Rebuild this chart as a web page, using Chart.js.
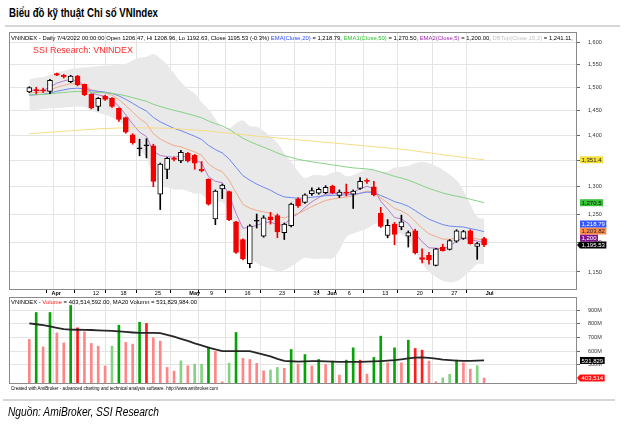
<!DOCTYPE html>
<html>
<head>
<meta charset="utf-8">
<script src="https://cdn.jsdelivr.net/npm/chart.js@4.4.1/dist/chart.umd.min.js"></script>
<style>
  body { margin: 0; width: 630px; height: 428px; background: #fff; position: relative; overflow: hidden; font-family: "Liberation Sans", Arial, sans-serif; }
  .t { position: absolute; white-space: nowrap; line-height: 1; transform-origin: 0 0; }
  .rule { position: absolute; height: 2px; background: #d6d6d6; }
  canvas { position: absolute; left: 0; }
</style>
</head>
<body>
<div class="t" id="title" style="left:9px;top:6.7px;font-weight:bold;font-size:12px;font-family:'Liberation Sans Narrow',Arial,sans-serif">Biểu đồ kỹ thuật Chỉ số VNIndex</div>
<div class="rule" style="left:5px;top:24.5px;width:615px"></div>

<canvas id="price" width="630" height="269" style="top:28px"></canvas>
<canvas id="vol" width="630" height="88" style="top:296px"></canvas>

<div class="t" id="hdr" style="left:11px;top:35.2px;font-size:12px">VNINDEX - Daily 7/4/2022 00:00:00 Open 1206.47, Hi 1208.96, Lo 1192.63, Close 1195.53 (-0.3%) <span style="color:#2b4cff">EMA(Close,20)</span> = 1,218.79, <span style="color:#2fbf2f">EMA1(Close,50)</span> = 1,270.50, <span style="color:#a01fb0">EMA2(Close,5)</span> = 1,200.00, <span style="color:#c4c4c4">DBTop(Close,15,2)</span> = 1,241.11,</div>
<div class="t" id="ssi" style="left:33px;top:45.7px;font-size:9px;color:#ff2a2a">SSI Research: VNINDEX</div>
<div class="t" id="vhdr" style="left:11px;top:298.7px;font-size:12px">VNINDEX - <span style="color:#ff2020">Volume</span> = 403,514,592.00, MA20 Volumn = 531,829,984.00</div>
<div class="t" id="foot" style="left:11px;top:386px;font-size:12px">Created with AmiBroker - advanced charting and technical analysis software. http://www.amibroker.com</div>

<div class="rule" style="left:3px;top:399px;width:612px"></div>
<div class="t" id="src" style="left:8px;top:406.4px;font-style:italic;font-size:12px;font-family:'Liberation Sans Narrow',Arial,sans-serif">Nguồn: AmiBroker, SSI Research</div>

<script>
// trading days shown (29/3/2022 - 4/7/2022)
var days = ['29/3','30/3','31/3','1/4','4/4','5/4','6/4','7/4','8/4','12/4','13/4','14/4','15/4','18/4','19/4','20/4','21/4','22/4','25/4','26/4','27/4','28/4','29/4',
  '4/5','5/5','6/5','9/5','10/5','11/5','12/5','13/5','16/5','17/5','18/5','19/5','20/5','23/5','24/5','25/5','26/5','27/5','30/5','31/5',
  '1/6','2/6','3/6','6/6','7/6','8/6','9/6','10/6','13/6','14/6','15/6','16/6','17/6','20/6','21/6','22/6','23/6','24/6','27/6','28/6','29/6','30/6','1/7','4/7'];

// VNINDEX daily candles
var opens = [1490,1495,1494,1491,1530,1526,1512,1524,1506,1485,1459,1481,1476,1455,1436,1401,1373,1379,1379,1286,
  1333,1354,1349,1364,1360,1333,1314,1241,1296,1291,1236,1205,1164,1237,1211,1245,1247,1217,1229,1277,
  1271,1287,1288,1289,1301,1284,1290,1286,1297,1312,1300,1251,1212,1232,1227,1211,1220,1174,1178,1161,
  1192,1188,1202,1207,1220,1193,1206.47];
var highs = [1501,1500,1498,1517,1531,1528,1526,1526,1507,1486,1478,1483,1478,1456,1437,1403,1392,1393,1382,1345,
  1356,1357,1370,1366,1362,1348,1315,1294,1305,1292,1237,1206,1231,1250,1247,1253,1250,1234,1270,1280,
  1287,1298,1298,1302,1303,1294,1305,1294,1317,1315,1310,1262,1240,1235,1248,1220,1223,1189,1183,1190,
  1197,1205,1222,1221,1222,1200,1208.96];
var lows = [1488,1486,1489,1486,1525,1520,1510,1503,1482,1454,1450,1472,1457,1428,1404,1382,1359,1355,1300,1258,
  1315,1349,1346,1347,1333,1328,1266,1231,1278,1238,1181,1170,1157,1225,1209,1232,1208,1205,1227,1262,
  1269,1284,1286,1287,1287,1280,1283,1260,1295,1306,1283,1226,1208,1196,1222,1192,1180,1165,1163,1160,
  1185,1187,1200,1205,1197,1171,1192.63];
var closes = [1499,1492,1492,1515,1526,1523,1524,1505,1484,1456,1476,1474,1459,1432,1406,1385,1373,1379,1310,1343,
  1354,1352,1366,1349,1345,1330,1268,1292,1303,1240,1183,1172,1229,1237,1243,1240,1218,1232,1268,1265,
  1285,1293,1295,1299,1289,1290,1288,1292,1310,1310,1285,1228,1230,1214,1236,1217,1182,1171,1170,1189,
  1186,1203,1220,1219,1198,1198,1195.53];

// indicator lines
var ema5 = [1494,1493.3,1492.9,1500.3,1508.9,1513.6,1517.1,1513.1,1503.4,1487.6,1483.7,1480.5,1473.3,1459.5,1441.7,1422.8,1406.2,1397.1,1368.1,1359.7,
  1357.8,1355.9,1359.3,1355.8,1352.2,1344.8,1319.2,1310.1,1307.7,1285.2,1251.1,1224.7,1226.1,1229.8,1234.2,1236.1,1230.1,1230.7,1243.1,1250.4,
  1261.9,1272.3,1279.9,1286.3,1287.2,1288.1,1288.1,1289.4,1296.3,1300.9,1295.6,1273.1,1258.7,1243.8,1241.2,1233.1,1216.1,1201.1,1190.7,1190.1,
  1188.8,1193.5,1202.3,1207.9,1204.6,1202.4,1200];
var ema10 = [1488,1488.7,1489.3,1494.0,1499.8,1504.0,1507.6,1507.1,1502.9,1494.4,1491.1,1488.0,1482.7,1473.5,1461.2,1447.3,1433.8,1423.8,1403.1,1392.2,
  1385.3,1379.2,1376.8,1371.7,1366.9,1360.2,1343.4,1334.1,1328.4,1312.3,1288.8,1267.6,1260.6,1256.3,1253.9,1251.4,1245.3,1242.9,1247.5,1250.7,
  1256.9,1263.5,1269.2,1274.6,1277.2,1279.5,1281.0,1283.0,1287.9,1291.9,1290.6,1279.2,1270.3,1260.1,1255.7,1248.7,1236.6,1224.7,1214.8,1210.1,
  1205.7,1205.2,1207.9,1209.9,1207.7,1205.9,1203.82];
var ema20 = [1483,1483.9,1484.7,1487.6,1491.3,1494.3,1497.1,1497.9,1496.6,1492.7,1491.1,1489.5,1486.6,1481.4,1474.2,1465.7,1456.9,1449.5,1436.2,1427.3,
  1420.3,1413.8,1409.3,1403.5,1397.9,1391.4,1379.7,1371.3,1364.8,1352.9,1336.7,1321.0,1312.2,1305.0,1299.1,1293.5,1286.3,1281.1,1279.9,1278.5,
  1279.1,1280.4,1281.8,1283.4,1283.9,1284.5,1284.8,1285.5,1287.8,1289.9,1289.4,1283.6,1278.5,1272.4,1268.9,1264.0,1256.2,1248.1,1240.7,1235.8,
  1231.1,1228.4,1227.6,1226.8,1224.1,1221.6,1218.79];
var ema50 = [1484,1484.3,1484.6,1485.8,1487.4,1488.8,1490.2,1490.8,1490.5,1489.1,1488.6,1488.0,1486.9,1484.7,1481.6,1477.8,1473.7,1470.0,1463.7,1459.0,
  1454.9,1450.9,1447.6,1443.7,1439.8,1435.5,1428.9,1423.5,1418.8,1411.8,1402.8,1393.8,1387.3,1381.4,1376.0,1370.7,1364.7,1359.5,1355.9,1352.3,
  1349.7,1347.5,1345.4,1343.6,1341.5,1339.5,1337.5,1335.7,1334.7,1333.7,1331.8,1327.7,1323.9,1319.6,1316.3,1312.4,1307.3,1302.0,1296.8,1292.6,
  1288.4,1285.1,1282.5,1280.0,1276.8,1273.7,1270.5];
var ma200 = [1403,1404,1405,1406,1407,1408,1409,1410,1411,1412,1413,1413.5,1414,1414.5,1415,1415,1415,1414.8,1414.6,1414.3,
  1414,1413.5,1412.5,1411.5,1410.5,1409.5,1408.5,1407,1405.5,1404,1402.5,1401,1399.5,1398,1397,1395.7,1394.5,1393.2,1392,1390.8,
  1389.5,1388.3,1387,1385.8,1384.6,1383.4,1382.1,1380.9,1379.6,1378.3,1377.1,1375.8,1374.6,1373.3,1372,1370.4,1368.6,1366.8,1365,1363.1,
  1361.3,1359.6,1357.9,1356.2,1354.5,1352.7,1351.4];
var bbTop = [1517,1520,1522,1527,1532,1536,1540,1542,1543,1545,1546,1547,1548,1550,1551.6,1559.4,1565.7,1566.9,1573.1,1563.5,
  1549.0,1530.1,1511.9,1496.7,1486.5,1468.1,1453.8,1433.7,1416.3,1414.0,1424.5,1429.9,1418.7,1417.1,1409.2,1397.4,1384.7,1364.3,1347.5,1329.0,
  1316.4,1321.3,1321.9,1320.8,1326.9,1327.4,1319.9,1322.3,1328.0,1332.5,1331.5,1328.9,1329.4,1336.4,1338.1,1339.9,1344.7,1346.9,1344.7,1339.4,
  1332.3,1323.2,1312.0,1292.9,1267.5,1245.3,1241.11];
var bbBot = [1450,1452,1454,1455,1456,1457,1458,1459,1458,1450,1446,1442,1436,1428,1416.8,1393.8,1371.7,1355.3,1321.9,1307.1,
  1299.0,1294.9,1294.7,1291.9,1287.3,1286.1,1273.0,1270.9,1271.1,1251.2,1213.7,1181.5,1172.7,1164.7,1159.2,1155.8,1150.7,1153.1,1159.1,1167.0,
  1173.6,1172.1,1171.9,1172.4,1172.9,1186.6,1209.5,1215.5,1219.6,1224.1,1231.1,1234.9,1234.2,1220.0,1214.5,1203.5,1183.9,1165.3,1150.3,1142.2,
  1135.5,1133.2,1134.8,1141.7,1152.3,1162.9,1162.5];

// volume, millions of shares; volUp: 1 = green bar, 0 = red bar
var volumes = [685,882,631,882,733,660,933,770,741,656,636,491,636,789,663,651,811,802,697,673,
  481,454,529,493,505,505,630,598,376,512,736,547,539,510,456,462,481,474,612,505,
  575,491,539,503,527,425,534,624,534,432,554,709,515,624,515,680,619,607,527,376,
  405,430,534,515,467,493,403.514592];
var volUp = [0,1,0,1,0,0,1,0,0,0,0,0,1,1,0,0,1,0,0,0,
  0,0,1,0,1,1,1,0,0,1,1,0,0,0,0,1,1,0,1,0,
  1,0,1,0,1,0,1,1,0,0,1,1,0,1,0,1,0,0,0,0,
  1,1,1,0,0,1,0];
var volMa20 = [802,796,789,781,770,760,757,756,755,754,752,750,748,744,740,736,733,733,733,732,
  719,705,690,675,657,642,626,613,600,600,600,600,600,587,574,562,543,529,526,523,
  525,527,527,525,523,522,522,522,522,523,525,527,530,534,540,547,552,554,550,545,
  538,534,531,529,529,530,531.829984];

// axis ticks
var priceTicks = [1150,1200,1250,1300,1350,1400,1450,1500,1550,1600];
var volTicks = [500,600,700,800,900];
var dateTickIdx = [3,9,13,18,23,26,31,36,41,43,46,51,56,61,66];
var dateTickText = ['Apr','12','18','25','May','9','16','23','30','Jun','6','13','20','27','Jul'];
var monthIdx = [3,23,43,66];
var weekIdx = [4,9,13,18,23,26,31,36,41,46,51,56,61,66];

var X_MIN = -0.231, X_MAX = 76.91;
var GRID = '#e4e4e4';

Chart.defaults.font.family = '"Liberation Sans", Arial, sans-serif';

function pts(arr) {
  return arr.map(function (v, i) { return {x: i, y: v}; });
}

var candleColor = opens.map(function (o, i) {
  if (closes[i] > o) return 'up';
  if (closes[i] < o) return 'down';
  return 'flat';
});

var framePlugin = {
  id: 'frame',
  afterDraw: function (chart) {
    var a = chart.chartArea, ctx = chart.ctx;
    ctx.save();
    ctx.strokeStyle = '#8a8a8a';
    ctx.lineWidth = 1;
    ctx.strokeRect(Math.round(a.left) - 0.5, Math.round(a.top) + 0.5, Math.round(a.right - a.left), Math.round(a.bottom - a.top) - 1);
    ctx.restore();
  }
};

function tagPlugin(tags) {
  return {
    id: 'tags',
    afterDraw: function (chart) {
      var ctx = chart.ctx, y = chart.scales.y;
      var list = tags.map(function (t) { return Object.assign({py: y.getPixelForValue(t.v)}, t); });
      list.sort(function (a, b) { return b.py - a.py; });
      var prev = Infinity;
      list.forEach(function (t) { t.py = Math.min(t.py, prev - 7); prev = t.py; });
      ctx.save();
      ctx.font = '6px "Liberation Sans", Arial';
      ctx.textBaseline = 'middle';
      list.forEach(function (t) {
        var w = ctx.measureText(t.text).width + 3, x0 = 580;
        ctx.fillStyle = t.bg;
        ctx.beginPath();
        if (t.arrow) {
          ctx.moveTo(x0 - 3, t.py);
          ctx.lineTo(x0, t.py - 3.5);
        } else {
          ctx.moveTo(x0, t.py - 3.5);
        }
        ctx.lineTo(x0 + w, t.py - 3.5);
        ctx.lineTo(x0 + w, t.py + 3.5);
        ctx.lineTo(x0, t.py + 3.5);
        ctx.closePath();
        ctx.fill();
        ctx.fillStyle = t.fg;
        ctx.fillText(t.text, x0 + 1.5, t.py + 0.5);
      });
      ctx.restore();
    }
  };
}

function fmt(v) { return v.toLocaleString('en-US', {maximumFractionDigits: 2}); }
var last = closes.length - 1;

// the library pads the plot for tick labels; the panels here use fixed boxes instead
function noPad(s) { s.paddingTop = 0; s.paddingBottom = 0; s.paddingLeft = 0; s.paddingRight = 0; }

var xScale = function (showLabels) {
  return {
    type: 'linear', min: X_MIN, max: X_MAX,
    afterBuildTicks: function (s) {
      var vals = weekIdx.concat(dateTickIdx).filter(function (v, i, a) { return a.indexOf(v) === i; }).sort(function (a, b) { return a - b; });
      s.ticks = vals.map(function (v) { return {value: v}; });
    },
    afterFit: function (s) { s.height = showLabels ? 7 : 0; noPad(s); },
    border: {display: false},
    grid: {
      color: function (c) { return c.tick && weekIdx.indexOf(c.tick.value) >= 0 ? GRID : 'rgba(0,0,0,0)'; },
      drawTicks: showLabels, tickLength: 3,
      tickColor: function (c) { return c.tick && dateTickIdx.indexOf(c.tick.value) >= 0 ? '#000' : 'rgba(0,0,0,0)'; }
    },
    ticks: {
      display: showLabels, autoSkip: false, maxRotation: 0, minRotation: 0, align: 'start', padding: -3, color: '#000',
      font: function (c) { return {size: 5.5, weight: c.tick && monthIdx.indexOf(c.tick.value) >= 0 ? 'bold' : 'normal'}; },
      callback: function (v) { var k = dateTickIdx.indexOf(v); return k >= 0 ? ' ' + dateTickText[k] : ''; }
    }
  };
};

var lineSet = function (arr, color, width) {
  return {type: 'line', data: pts(arr), borderColor: color, borderWidth: width || 1, pointRadius: 0, fill: false, order: 5};
};

// price panel
new Chart(document.getElementById('price'), {
  data: {
    datasets: [
      {type: 'line', data: pts(bbTop), fill: '+1', backgroundColor: '#e9e9e9', borderWidth: 0, borderColor: 'rgba(0,0,0,0)', pointRadius: 0, tension: 0.4, order: 10},
      {type: 'line', data: pts(bbBot), fill: false, borderWidth: 0, borderColor: 'rgba(0,0,0,0)', pointRadius: 0, tension: 0.4, order: 10},
      lineSet(ma200, '#f6dc86'),
      lineSet(ema50, '#86d286'),
      lineSet(ema20, '#7088f0'),
      lineSet(ema10, '#f2aa8a'),
      lineSet(ema5, '#b47ccc'),
      {
        type: 'bar', order: 2, grouped: false, barThickness: 1,
        data: lows.map(function (l, i) { return {x: i, y: [l, highs[i]]}; }),
        backgroundColor: candleColor.map(function (c) { return c === 'down' ? '#f20000' : '#000'; })
      },
      {
        type: 'bar', order: 1, grouped: false, barThickness: 5, minBarLength: 1, borderSkipped: false, borderWidth: 1,
        data: opens.map(function (o, i) { return {x: i, y: [Math.min(o, closes[i]), Math.max(o, closes[i])]}; }),
        backgroundColor: candleColor.map(function (c) { return c === 'up' ? '#ffffff' : c === 'down' ? '#f20000' : '#000'; }),
        borderColor: candleColor.map(function (c) { return c === 'down' ? '#f20000' : '#000'; })
      }
    ]
  },
  options: {
    responsive: false, animation: false, devicePixelRatio: 1,
    layout: {padding: {left: 10, top: 4, right: 0, bottom: 0}},
    plugins: {legend: {display: false}, tooltip: {enabled: false}},
    scales: {
      x: xScale(true),
      y: {
        type: 'logarithmic', position: 'right', min: 1120.6, max: 1624,
        afterBuildTicks: function (s) { s.ticks = priceTicks.map(function (v) { return {value: v}; }); },
        afterFit: function (s) { s.width = 53; noPad(s); },
        border: {display: false},
        grid: {color: GRID, tickLength: 3, tickColor: '#666'},
        ticks: {padding: 8, color: '#333', font: {size: 5.5}, callback: function (v) { return Number(v).toLocaleString('en-US'); }}
      }
    }
  },
  plugins: [framePlugin, tagPlugin([
    {v: ma200[last], text: fmt(ma200[last]), bg: '#f3df3a', fg: '#222'},
    {v: ema50[last], text: fmt(ema50[last]), bg: '#36c236', fg: '#111'},
    {v: ema20[last], text: fmt(ema20[last]), bg: '#3456ff', fg: '#fff'},
    {v: ema10[last], text: fmt(ema10[last]), bg: '#ff8a4a', fg: '#222'},
    {v: ema5[last], text: fmt(ema5[last]), bg: '#80168f', fg: '#fff'},
    {v: closes[last], text: fmt(closes[last]), bg: '#000', fg: '#fff', arrow: true}
  ])]
});

// volume panel
new Chart(document.getElementById('vol'), {
  data: {
    datasets: [
      {type: 'line', data: pts(volMa20), borderColor: '#262626', borderWidth: 1.8, pointRadius: 0, fill: false, order: 1},
      {
        type: 'bar', order: 2, barThickness: 2, base: 360,
        data: pts(volumes),
        backgroundColor: volumes.map(function (v, i) {
          var strong = v > volMa20[i];
          if (volUp[i]) return strong ? '#06a306' : '#84d284';
          return strong ? '#ff1c1c' : '#ff8686';
        })
      }
    ]
  },
  options: {
    responsive: false, animation: false, devicePixelRatio: 1,
    layout: {padding: {left: 10, top: 1, right: 0, bottom: 0}},
    plugins: {legend: {display: false}, tooltip: {enabled: false}},
    scales: {
      x: xScale(false),
      y: {
        type: 'linear', position: 'right', min: 360, max: 995,
        afterBuildTicks: function (s) { s.ticks = volTicks.map(function (v) { return {value: v}; }); },
        afterFit: function (s) { s.width = 53; noPad(s); },
        border: {display: false},
        grid: {color: GRID, tickLength: 3, tickColor: '#666'},
        ticks: {padding: 8, color: '#333', font: {size: 5.5}, callback: function (v) { return v + 'M'; }}
      }
    }
  },
  plugins: [framePlugin, tagPlugin([
    {v: volMa20[last], text: Math.floor(volMa20[last] * 1000).toLocaleString('en-US'), bg: '#000', fg: '#fff'},
    {v: volumes[last], text: Math.floor(volumes[last] * 1000).toLocaleString('en-US'), bg: '#ff1010', fg: '#fff', arrow: true}
  ])]
});

// squeeze the small texts to the widths they take in the picture
function fitText(id, width, size) {
  var el = document.getElementById(id);
  var base = parseFloat(getComputedStyle(el).fontSize);
  var w = el.getBoundingClientRect().width;
  el.style.transform = 'scale(' + (width / w) + ',' + (size / base) + ')';
}
fitText('title', 149, 12);
fitText('hdr', 562, 6);
fitText('ssi', 100, 9);
fitText('vhdr', 186, 6);
fitText('foot', 207, 4.5);
fitText('src', 151, 12);
</script>
</body>
</html>
